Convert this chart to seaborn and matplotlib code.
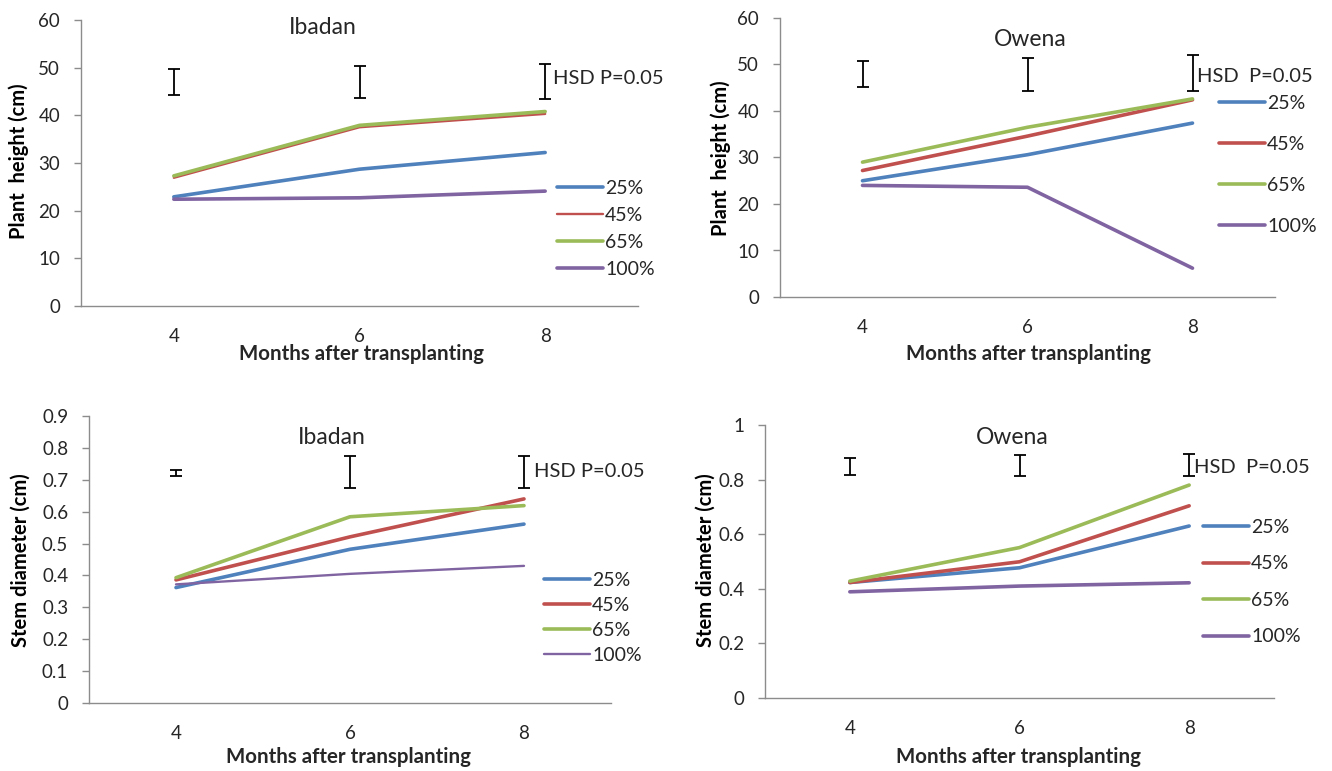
import numpy as np
import pandas as pd
import seaborn as sns
import matplotlib.pyplot as plt
from matplotlib.ticker import FuncFormatter

# --- data ---
months = [4, 6, 8]
levels = ["25%", "45%", "65%", "100%"]
colors = ["#4F81BD", "#C0504D", "#9BBB59", "#8064A2"]

# plant height (cm), rows follow `levels`
height_ibadan = [[22.9, 28.7, 32.2],
                 [26.9, 37.5, 40.3],
                 [27.3, 37.9, 40.8],
                 [22.4, 22.7, 24.1]]
height_owena = [[25.0, 30.6, 37.4],
                [27.2, 34.6, 42.4],
                [29.0, 36.5, 42.6],
                [24.0, 23.6, 6.2]]
# stem diameter (cm)
stem_ibadan = [[0.362, 0.482, 0.561],
               [0.386, 0.521, 0.640],
               [0.393, 0.584, 0.619],
               [0.372, 0.405, 0.430]]
stem_owena = [[0.423, 0.477, 0.630],
              [0.423, 0.499, 0.704],
              [0.428, 0.551, 0.780],
              [0.389, 0.410, 0.422]]

# HSD (P=0.05) bars: low / high ends
hsd_height_ibadan_lo = [44.3, 43.6, 43.4]
hsd_height_ibadan_hi = [49.7, 50.4, 50.8]
hsd_height_owena_lo = [45.1, 44.4, 44.4]
hsd_height_owena_hi = [50.8, 51.5, 52.0]
hsd_stem_ibadan_lo = [0.711, 0.673, 0.673]
hsd_stem_ibadan_hi = [0.732, 0.774, 0.774]
hsd_stem_owena_lo = [0.817, 0.813, 0.814]
hsd_stem_owena_hi = [0.878, 0.890, 0.892]

sns.set_style("white")
plt.rcParams['font.family'] = ['Lato', 'DejaVu Sans']

W, H = 1332, 771
fig = plt.figure(figsize=(W / 100, H / 100), dpi=100)
grey = "#8c8c8c"
txt = "#262626"


def pxtext(x, y, s, **kw):
    fig.text(x / W, 1 - y / H, s, **kw)


def panel(box, data, lo, hi, ylim, yticks, widths, title, title_xy,
          hsd_label, hsd_xy, ylabel, ylabel_xy, xlabel_xy, leg_xy, leg_space):
    l, t, r, b = box
    ax = fig.add_axes([l / W, 1 - b / H, (r - l) / W, (b - t) / H])
    for vals, lev, c, w in zip(data, levels, colors, widths):
        sns.lineplot(x=months, y=vals, color=c, lw=w, label=lev, ax=ax)
    lo = np.array(lo)
    hi = np.array(hi)
    ax.errorbar(months, (lo + hi) / 2, yerr=(hi - lo) / 2, fmt='none',
                ecolor='black', elinewidth=1.3, capsize=4, capthick=1.3)
    ax.set_xlim(3, 9)
    ax.set_ylim(*ylim)
    ax.set_yticks(yticks)
    ax.yaxis.set_major_formatter(FuncFormatter(lambda v, p: f"{v:g}"))
    ax.set_xticks(months)
    ax.set_xticks([3, 5, 7, 9], minor=True)
    ax.tick_params(axis='x', which='major', length=0, pad=16, labelsize=13.5, labelcolor=txt)
    ax.tick_params(axis='x', which='minor', length=5, width=1, color=grey, direction='out')
    ax.tick_params(axis='y', length=5, width=1, color=grey, direction='out', pad=10,
                   labelsize=13.5, labelcolor=txt, left=True)
    for s in ['top', 'right']:
        ax.spines[s].set_visible(False)
    for s in ['left', 'bottom']:
        ax.spines[s].set_color(grey)
        ax.spines[s].set_linewidth(1)
    ax.set_xlabel("")
    ax.set_ylabel("")
    ax.legend(loc='upper left', bbox_to_anchor=(leg_xy[0] / W, 1 - leg_xy[1] / H),
              bbox_transform=fig.transFigure, frameon=False, fontsize=14,
              handlelength=2.35, handletextpad=0.12, borderpad=0, borderaxespad=0,
              labelspacing=leg_space)
    pxtext(*title_xy, title, ha='center', va='center', fontsize=16.5, color=txt)
    pxtext(*hsd_xy, hsd_label, ha='left', va='center', fontsize=14.5, color=txt)
    pxtext(*ylabel_xy, ylabel, ha='center', va='center', rotation=90,
           fontsize=14.5, fontweight='bold', color='black')
    pxtext(*xlabel_xy, "Months after transplanting", ha='center', va='center',
           fontsize=14.8, fontweight='bold', color=txt)
    return ax


panel((81, 20, 638, 306), height_ibadan, hsd_height_ibadan_lo, hsd_height_ibadan_hi,
      (0, 60), np.arange(0, 61, 10), [2.6, 1.7, 2.6, 2.6],
      "Ibadan", (323, 27), "HSD P=0.05", (553, 78),
      "Plant  height (cm)", (19, 161), (361, 354), (557, 180), 0.51)

panel((780, 18, 1275, 297), height_owena, hsd_height_owena_lo, hsd_height_owena_hi,
      (0, 60), np.arange(0, 61, 10), [2.6, 2.6, 2.6, 2.6],
      "Owena", (1030, 39), "HSD  P=0.05", (1197, 76),
      "Plant  height (cm)", (721, 158), (1028, 354), (1219, 95), 1.23)

panel((89, 416, 611, 703), stem_ibadan, hsd_stem_ibadan_lo, hsd_stem_ibadan_hi,
      (0, 0.9), np.round(np.arange(0, 0.91, 0.1), 1), [2.6, 2.6, 2.6, 1.7],
      "Ibadan", (332, 438), "HSD P=0.05", (534, 471),
      "Stem diameter (cm)", (21, 560), (349, 757), (544, 572), 0.41)

panel((765, 425, 1274, 698), stem_owena, hsd_stem_owena_lo, hsd_stem_owena_hi,
      (0, 1), np.round(np.arange(0, 1.01, 0.2), 1), [2.6, 2.6, 2.6, 2.6],
      "Owena", (1012, 437), "HSD  P=0.05", (1194, 468),
      "Stem diameter (cm)", (706, 560), (1019, 757), (1203, 519), 1.0)

fig.savefig("out.png", dpi=100, facecolor='white')
